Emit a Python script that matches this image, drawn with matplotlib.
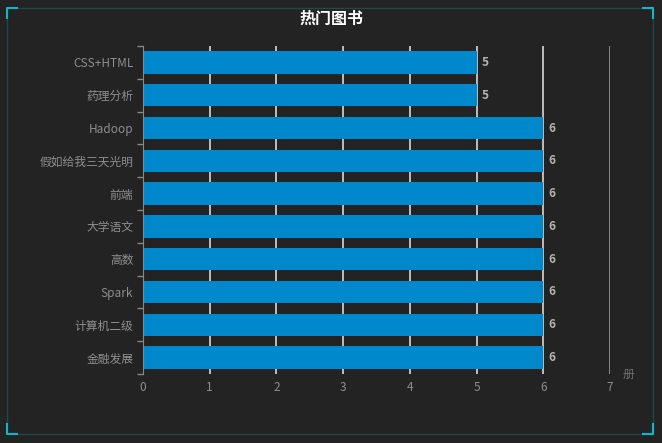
import matplotlib
matplotlib.use('Agg')
import matplotlib.pyplot as plt
from matplotlib.patches import Rectangle
from matplotlib.lines import Line2D

plt.rcParams['font.family'] = ['Noto Sans CJK SC', 'DejaVu Sans']

# data
books = ['CSS+HTML', '药理分析', 'Hadoop', '假如给我三天光明', '前端',
         '大学语文', '高数', 'Spark', '计算机二级', '金融发展']
counts = [5, 5, 6, 6, 6, 6, 6, 6, 6, 6]
x_ticks = [0, 1, 2, 3, 4, 5, 6, 7]
title = '热门图书'
unit = '册'

bg = '#232323'
bar_color = '#0088cc'
label_color = '#8e8e8e'

fig = plt.figure(figsize=(6.62, 4.43), dpi=100, facecolor=bg)
ax = fig.add_axes([0.216, 0.156, 0.7055, 0.74])
ax.set_facecolor('none')

y = list(range(len(books)))
ax.barh(y, counts, height=0.68, color=bar_color, zorder=3)
for yi, v in zip(y, counts):
    ax.text(v + 0.08, yi, str(v), va='center', ha='left', fontsize=8.5,
            color='#b4b4b4', fontweight='bold', zorder=4)

ax.set_xlim(0, 7)
ax.set_ylim(len(books) - 0.5, -0.5)
ax.set_xticks(x_ticks)
ax.set_xticklabels([str(t) for t in x_ticks])
ax.set_yticks(y)
ax.set_yticklabels(books)
ax.set_yticks([i - 0.5 for i in range(len(books) + 1)], minor=True)
ax.tick_params(axis='y', which='major', length=0, pad=7, labelsize=8.5,
               labelcolor=label_color)
ax.tick_params(axis='y', which='minor', length=4, color='#888888', width=1)
ax.tick_params(axis='x', length=0, pad=5, labelsize=8.5, labelcolor=label_color)

for t in x_ticks[1:]:
    col = '#9a9a9a' if t == 7 else '#d8d8d8'
    ax.axvline(t, color=col, linewidth=1.2, zorder=2)

for s in ['top', 'right', 'bottom']:
    ax.spines[s].set_visible(False)
ax.spines['left'].set_color('#888888')
ax.spines['left'].set_zorder(5)

ax.text(7.18, len(books) - 0.5, unit, fontsize=8.5, color='#6e6e6e',
        va='center', ha='left', clip_on=False)

fig.text(0.5, 0.958, title, ha='center', va='center', fontsize=11.5,
         fontweight='bold', color='white')

# frame with cyan corner accents
W, H = 662, 443
fig.patches.append(Rectangle((7 / W, 1 - 434 / H), 646 / W, 426 / H,
                             transform=fig.transFigure, fill=False,
                             edgecolor='#1f4a44', linewidth=1))
c = '#13b5c6'
L = 10
corners = [
    ([7, 7, 7 + L], [8 + L, 8, 8]),
    ([653 - L, 653, 653], [8, 8, 8 + L]),
    ([7, 7, 7 + L], [434 - L, 434, 434]),
    ([653, 653, 653 - L], [434 - L, 434, 434]),
]
for xs, ys in corners:
    fig.lines.append(Line2D([v / W for v in xs], [1 - v / H for v in ys],
                            transform=fig.transFigure, color=c, linewidth=1.5))

fig.savefig('out.png', dpi=100, facecolor=bg)
